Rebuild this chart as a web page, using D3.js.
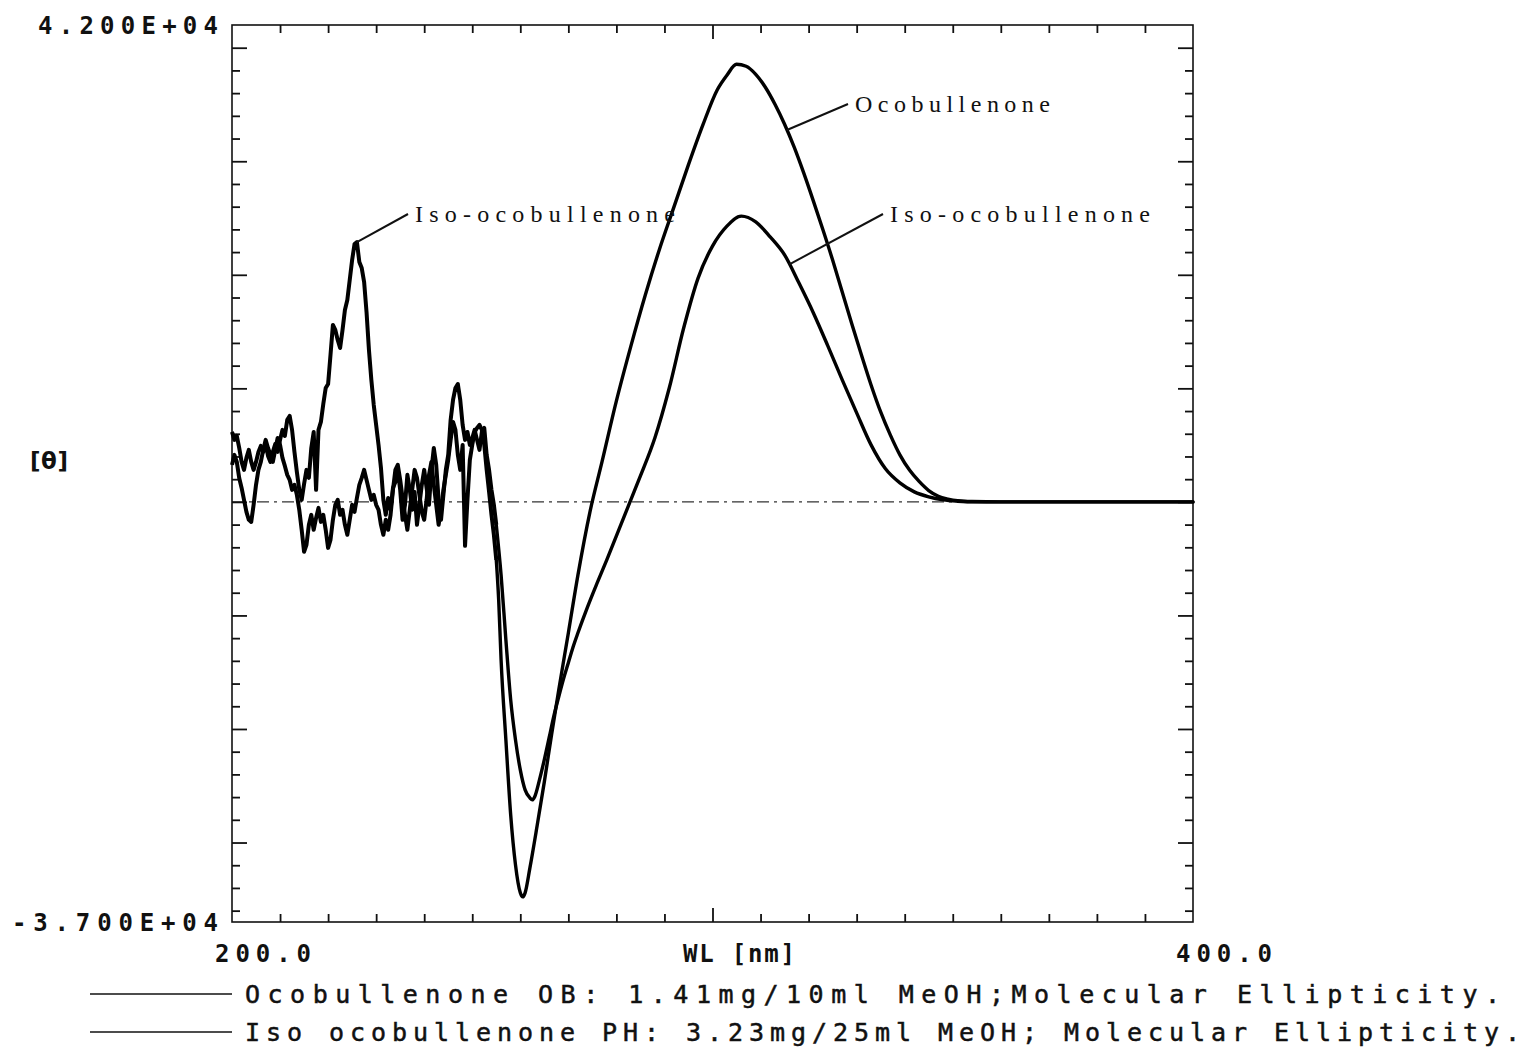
<!DOCTYPE html>
<html><head><meta charset="utf-8">
<script src="https://cdn.jsdelivr.net/npm/d3@7"></script>
<style>body{margin:0;background:#fff}</style>
</head><body>
<svg id="chart" width="1528" height="1049"></svg>
<script>
// sampling wavelengths of the noisy part (nm)
const noiseWL = [200,200.5,201,201.5,202,202.5,203,203.5,204,204.5,205,205.5,206,206.5,207,207.5,208,208.5,209,209.5,
210,210.5,211,211.5,212,212.5,213,213.5,214,214.5,215,215.5,216,216.5,217,217.5,218,218.5,219,219.5,
220,220.5,221,221.5,222,222.5,223,223.5,224,224.5,225,225.5,226,226.5,227,227.5,228,228.5,229,229.5,
230,230.5,231,231.5,232,232.5,233,233.5,234,234.5,235,235.5,236,236.5,237,237.5,238,238.5,239,239.5,
240,240.5,241,241.5,242,242.5,243,243.5,244,244.5,245,245.5,246,246.5,247,247.5,248,248.5,249,249.5,
250,250.5,251,251.5,252,252.5,253,253.5,254,254.5,255];
const ocoNoise = [3260,4140,3520,2110,1230,180,-880,-1580,-1760,-260,
1500,2820,3520,4580,5460,4750,4140,3520,4580,5630,
5020,3870,3170,2380,1940,1060,1500,620,-700,-2460,
-4400,-3780,-2020,-1140,-2460,-1410,-530,-1760,-1140,-2460,
-4050,-3340,-1580,-260,180,-1140,-700,-2020,-2900,-1580,
-260,-880,350,1500,2110,2820,1940,1060,180,620,
-260,-700,-2020,-2900,-1580,-2460,-1140,1060,2820,3260,
1940,350,-1140,-2460,-700,1060,2820,2110,620,-880,
-1580,180,2380,3520,1500,-260,-2020,-700,1060,2380,
3700,5460,7040,6340,4140,2820,5020,-3870,180,3700,
5020,6160,6510,6780,6340,5020,2820,880,-1140,-2900,
-5100];
const isoNoise = [6160,5460,5810,4750,3520,2820,3870,4580,3520,2820,
3520,4400,4930,4400,5100,4050,3520,4400,5100,4400,
5460,6340,5810,7220,7570,6340,4400,2640,1060,180,
1580,2820,2110,4750,6160,1060,6340,7040,8630,10030,
10380,12940,15580,15140,14260,13550,15140,16900,17780,19540,
21300,22710,22880,21120,20590,19360,16720,13380,10740,8540,
6780,5020,2990,180,-1140,350,-700,1230,1760,2820,
1060,-1580,-260,2380,1060,-700,880,-2020,-260,1500,
2820,1230,-260,2820,4750,3260,180,-1580,620,2820,
4140,7220,8980,10030,10380,8980,6780,5460,6160,5020,
5630,6340,5460,4580,6160,6510,4140,2820,1060,-260,
-2020];
// smooth parts
const ocoWL = [255.5,256,257,258,259,260,260.5,261,262,263.5,265,266.5,268,270,272,274.5,277,280,283,286,
289,292,295,298,301,303,305,307,309,311,313,315,317,319,321,323,325,327,329,331,
333,335,337,339,341,343,345,347,349,351,354,360,400];
const ocoVal = [-8630,-13900,-20960,-27560,-31970,-34430,-34790,-34430,-32230,-28530,-24660,-20520,-16560,-11540,-6430,-880,3520,8900,13700,18200,
22300,26000,29700,33200,36300,37580,38540,38370,37660,36520,35020,33260,31240,28950,26490,23940,21300,18490,15670,12940,
10300,7920,5900,4140,2800,1800,1000,500,250,100,30,0,0];
const isoWL = [256,257,258,259,260,261,262,262.5,263,264,265,266,267,268,269,270,271,272,274,276,
278,280,282,283,285,288,291,294,297,300,303,306,309,312,315,318,321,324,327,330,
333,336,339,342,345,348,351,355,400];
const isoVal = [-6430,-12150,-17440,-20960,-23600,-25360,-26070,-26240,-25960,-24460,-22700,-20770,-18830,-17160,-15580,-14170,-12760,-11530,-9240,-7130,
-5100,-2990,-880,180,2290,5630,10030,15310,19710,22530,24290,25170,24660,23340,21750,19270,16640,13740,10740,7840,
5020,2910,1670,880,440,180,60,0,0];

const xDomain = [200, 400];
const yDomain = [-37000, 42000];
const xTickValues = [210,220,230,240,250,260,270,280,290,300,310,320,330,340,350,360,370,380,390];
const xMajorTick = 300;
const yTickValues = [-36000,-34000,-32000,-30000,-28000,-26000,-24000,-22000,-20000,-18000,-16000,-14000,-12000,-10000,-8000,-6000,-4000,-2000,0,
2000,4000,6000,8000,10000,12000,14000,16000,18000,20000,22000,24000,26000,28000,30000,32000,34000,36000,38000,40000];
const xTickLabels = [{v:200, t:"200.0"}, {v:400, t:"400.0"}];
const yTickLabels = [{v:42000, t:"4.200E+04"}, {v:-37000, t:"-3.700E+04"}];
const xTitle = "WL [nm]";
const yTitle = "[\u03B8]";
const legendLabels = ["Ocobullenone OB: 1.41mg/10ml MeOH;Molecular Ellipticity.",
                      "Iso ocobullenone PH: 3.23mg/25ml MeOH; Molecular Ellipticity."];

const svg = d3.select("#chart");
const L = 232, R = 1193, T = 25, B = 922;
const x = d3.scaleLinear().domain(xDomain).range([L, R]);
const y = d3.scaleLinear().domain(yDomain).range([B, T]);

const ocoN = noiseWL.map((w,i)=>[w, ocoNoise[i]]);
const ocoS = ocoWL.map((w,i)=>[w, ocoVal[i]]);
const isoN = noiseWL.map((w,i)=>[w, isoNoise[i]]);
const isoS = isoWL.map((w,i)=>[w, isoVal[i]]);
const oco = ocoN.concat(ocoS), iso = isoN.concat(isoS);

// zero line
svg.append("line").attr("x1", x(200)).attr("x2", x(400)).attr("y1", y(0)).attr("y2", y(0))
  .attr("stroke", "#333").attr("stroke-width", 1.2).attr("stroke-dasharray", "12,5,3,5");

// axes (ticks inward)
const tickStyle = g => { g.select(".domain").remove(); g.selectAll("line").attr("stroke","#111").attr("stroke-width",1.8); g.selectAll("text").remove(); };
svg.append("g").attr("transform", `translate(0,${B})`)
  .call(d3.axisBottom(x).tickValues(xTickValues).tickSizeInner(-8).tickSizeOuter(0).tickFormat(""))
  .call(tickStyle)
  .selectAll(".tick line").attr("y2", d => d === xMajorTick ? -14 : -8);
svg.append("g").attr("transform", `translate(0,${T})`)
  .call(d3.axisTop(x).tickValues(xTickValues).tickSizeInner(-8).tickSizeOuter(0).tickFormat(""))
  .call(tickStyle)
  .selectAll(".tick line").attr("y2", d => d === xMajorTick ? 14 : 8);
svg.append("g").attr("transform", `translate(${L},0)`)
  .call(d3.axisLeft(y).tickValues(yTickValues).tickSizeInner(-8).tickSizeOuter(0).tickFormat(""))
  .call(tickStyle)
  .selectAll(".tick line").attr("x2", d => d % 10000 === 0 ? 15 : 8);
svg.append("g").attr("transform", `translate(${R},0)`)
  .call(d3.axisRight(y).tickValues(yTickValues).tickSizeInner(-8).tickSizeOuter(0).tickFormat(""))
  .call(tickStyle)
  .selectAll(".tick line").attr("x2", d => d % 10000 === 0 ? -15 : -8);

// frame
svg.append("rect").attr("x", L).attr("y", T).attr("width", R-L).attr("height", B-T)
  .attr("fill","none").attr("stroke","#111").attr("stroke-width",1.6);

// curves: jagged noisy part drawn point to point, smooth part with a monotone curve
const noisyLine = d3.line().x(d=>x(d[0])).y(d=>y(d[1])).curve(d3.curveLinear);
const smoothLine = d3.line().x(d=>x(d[0])).y(d=>y(d[1])).curve(d3.curveMonotoneX);
[[ocoN, ocoS], [isoN, isoS]].forEach(([n, s]) => {
  svg.append("path").datum(n).attr("d", noisyLine).attr("fill","none")
    .attr("stroke","#000").attr("stroke-width",4).attr("stroke-linejoin","round");
  svg.append("path").datum([n[n.length-1]].concat(s)).attr("d", smoothLine).attr("fill","none")
    .attr("stroke","#000").attr("stroke-width",3.4).attr("stroke-linejoin","round").attr("stroke-linecap","round");
});

// tick labels
const monoFont = "'DejaVu Sans Mono', monospace";
yTickLabels.forEach((d,i) => {
  svg.append("text").attr("x", 218).attr("y", y(d.v)+9).attr("text-anchor","end")
    .attr("font-family", monoFont).attr("font-weight","bold").attr("font-size",24)
    .attr("textLength", i===0 ? 180 : 206).attr("lengthAdjust","spacing")
    .attr("fill","#111").text(d.t);
});
xTickLabels.forEach(d => {
  svg.append("text").attr("x", x(d.v) - 17).attr("y", 962)
    .attr("font-family", monoFont).attr("font-weight","bold").attr("font-size",24)
    .attr("textLength", 96).attr("lengthAdjust","spacing").attr("fill","#111").text(d.t);
});
svg.append("text").attr("x", 683).attr("y", 962)
  .attr("font-family", monoFont).attr("font-weight","bold").attr("font-size",24)
  .attr("textLength", 112).attr("lengthAdjust","spacing").attr("fill","#111").text(xTitle);
svg.append("text").attr("x", 30).attr("y", 469)
  .attr("font-family", "'DejaVu Sans', sans-serif").attr("font-weight","bold").attr("font-size",23)
  .attr("textLength", 38).attr("lengthAdjust","spacing")
  .attr("fill","#111").text(yTitle);

// legend
legendLabels.forEach((t,i) => {
  const ly = 994 + i*38;
  svg.append("line").attr("x1", 90).attr("x2", 232).attr("y1", ly).attr("y2", ly)
    .attr("stroke","#111").attr("stroke-width",1.6);
  svg.append("text").attr("x", 245).attr("y", ly+9)
    .attr("font-family", monoFont).attr("font-size",25)
    .attr("stroke","#111").attr("stroke-width",0.5)
    .attr("textLength", i===0 ? 1255 : 1275).attr("lengthAdjust","spacing")
    .attr("fill","#111").text(t);
});

// annotations
function valueAt(series, w) {
  const i = d3.bisector(d=>d[0]).left(series, w);
  if (i <= 0) return series[0][1];
  const a = series[i-1], b = series[i];
  return a[1] + (b[1]-a[1]) * (w - a[0]) / (b[0]-a[0]);
}
const annotations = [
  {series: oco, wl: 315.5, text: "Ocobullenone", tx: 855, ty: 104, len: 195},
  {series: iso, wl: 316, text: "Iso-ocobullenone", tx: 890, ty: 214, len: 260},
  {series: iso, wl: 226, text: "Iso-ocobullenone", tx: 415, ty: 214, len: 260}
];
annotations.forEach(a => {
  const ax = x(a.wl), ay = y(valueAt(a.series, a.wl));
  svg.append("line").attr("x1", ax).attr("y1", ay).attr("x2", a.tx - 7).attr("y2", a.ty)
    .attr("stroke","#111").attr("stroke-width",2);
  svg.append("text").attr("x", a.tx).attr("y", a.ty + 8)
    .attr("font-family","'Liberation Serif', serif").attr("font-size",24)
    .attr("textLength", a.len).attr("lengthAdjust","spacing")
    .attr("fill","#111").text(a.text);
});
</script>
</body></html>
